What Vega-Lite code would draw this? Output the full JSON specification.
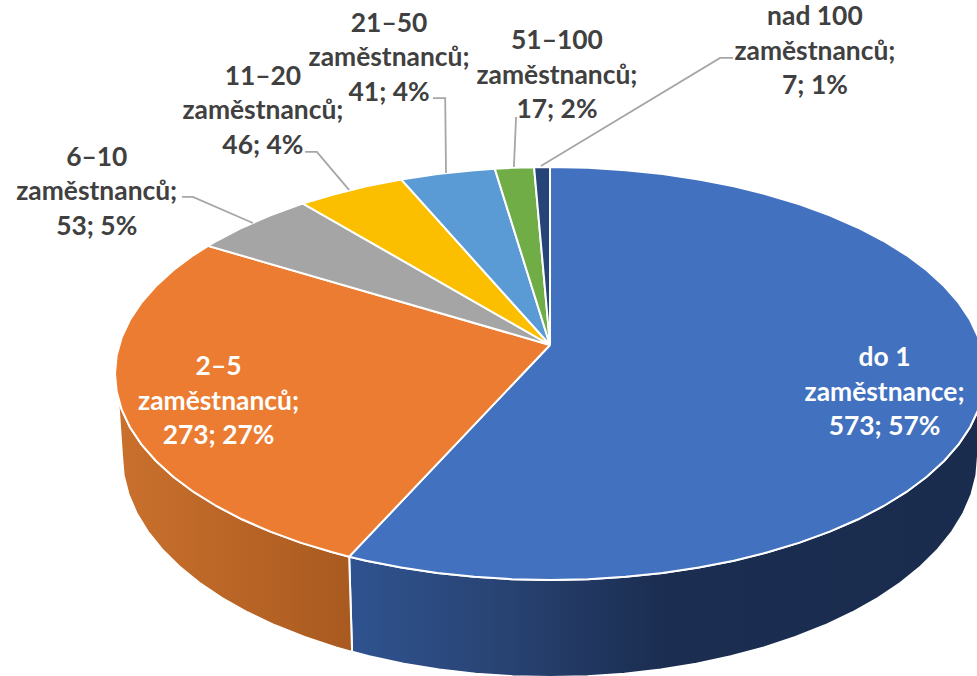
{"$schema":"https://vega.github.io/schema/vega-lite/v6.json","width":977,"height":676,"padding":0,"autosize":{"type":"fit","contains":"padding"},"background":"white","config":{"view":{"stroke":null}},
"datasets":{
"sides":[
{"part":"a","i":0,"u":100,"v":0},{"part":"a","i":1,"u":99.62,"v":8.72},{"part":"a","i":2,"u":98.48,"v":17.36},{"part":"a","i":3,"u":96.59,"v":25.88},{"part":"a","i":4,"u":93.97,"v":34.2},{"part":"a","i":5,"u":90.63,"v":42.26},{"part":"a","i":6,"u":86.6,"v":50},{"part":"a","i":7,"u":81.92,"v":57.36},{"part":"a","i":8,"u":76.6,"v":64.28},{"part":"a","i":9,"u":70.71,"v":70.71},{"part":"a","i":10,"u":64.28,"v":76.6},{"part":"a","i":11,"u":57.36,"v":81.92},{"part":"a","i":12,"u":50,"v":86.6},{"part":"a","i":13,"u":42.26,"v":90.63},{"part":"a","i":14,"u":34.2,"v":93.97},{"part":"a","i":15,"u":25.88,"v":96.59},{"part":"a","i":16,"u":17.36,"v":98.48},{"part":"a","i":17,"u":8.72,"v":99.62},{"part":"a","i":18,"u":0,"v":100},{"part":"a","i":19,"u":-8.72,"v":99.62},{"part":"a","i":20,"u":-17.36,"v":98.48},{"part":"a","i":21,"u":-25.88,"v":96.59},{"part":"a","i":22,"u":-34.2,"v":93.97},{"part":"a","i":23,"u":-42.26,"v":90.63},{"part":"a","i":24,"u":-46.17,"v":88.7},
{"part":"a","i":25,"u":-45.5,"v":134.79},{"part":"a","i":26,"u":-41.58,"v":136.94},{"part":"a","i":27,"u":-33.65,"v":140.52},{"part":"a","i":28,"u":-25.47,"v":143.32},{"part":"a","i":29,"u":-17.09,"v":145.34},{"part":"a","i":30,"u":-8.58,"v":146.56},{"part":"a","i":31,"u":0,"v":146.97},{"part":"a","i":32,"u":8.58,"v":146.56},{"part":"a","i":33,"u":17.09,"v":145.34},{"part":"a","i":34,"u":25.47,"v":143.32},{"part":"a","i":35,"u":33.65,"v":140.52},{"part":"a","i":36,"u":41.58,"v":136.94},{"part":"a","i":37,"u":49.2,"v":132.63},{"part":"a","i":38,"u":56.43,"v":127.62},{"part":"a","i":39,"u":63.24,"v":121.93},{"part":"a","i":40,"u":69.57,"v":115.62},{"part":"a","i":41,"u":75.37,"v":108.74},{"part":"a","i":42,"u":80.6,"v":101.33},{"part":"a","i":43,"u":85.21,"v":93.46},{"part":"a","i":44,"u":89.17,"v":85.18},{"part":"a","i":45,"u":92.46,"v":76.55},{"part":"a","i":46,"u":95.04,"v":67.65},{"part":"a","i":47,"u":96.9,"v":58.53},{"part":"a","i":48,"u":98.02,"v":49.28},{"part":"a","i":49,"u":98.39,"v":39.95},{"part":"a","i":50,"u":100,"v":0},
{"part":"b","i":0,"u":-46.17,"v":88.7},{"part":"b","i":1,"u":-50,"v":86.6},{"part":"b","i":2,"u":-57.36,"v":81.92},{"part":"b","i":3,"u":-64.28,"v":76.6},{"part":"b","i":4,"u":-70.71,"v":70.71},{"part":"b","i":5,"u":-76.6,"v":64.28},{"part":"b","i":6,"u":-81.92,"v":57.36},{"part":"b","i":7,"u":-86.6,"v":50},{"part":"b","i":8,"u":-90.63,"v":42.26},{"part":"b","i":9,"u":-93.97,"v":34.2},{"part":"b","i":10,"u":-96.59,"v":25.88},{"part":"b","i":11,"u":-98.48,"v":17.36},{"part":"b","i":12,"u":-99.3,"v":11.84},
{"part":"b","i":13,"u":-98.39,"v":39.95},{"part":"b","i":14,"u":-98.02,"v":49.28},{"part":"b","i":15,"u":-96.9,"v":58.53},{"part":"b","i":16,"u":-95.04,"v":67.65},{"part":"b","i":17,"u":-92.46,"v":76.55},{"part":"b","i":18,"u":-89.17,"v":85.18},{"part":"b","i":19,"u":-85.21,"v":93.46},{"part":"b","i":20,"u":-80.6,"v":101.33},{"part":"b","i":21,"u":-75.37,"v":108.74},{"part":"b","i":22,"u":-69.57,"v":115.62},{"part":"b","i":23,"u":-63.24,"v":121.93},{"part":"b","i":24,"u":-56.43,"v":127.62},{"part":"b","i":25,"u":-49.2,"v":132.63},{"part":"b","i":26,"u":-45.5,"v":134.79},{"part":"b","i":27,"u":-46.17,"v":88.7}
],
"slices":[
{"part":"a","i":0,"u":0,"v":-13.8},{"part":"a","i":1,"u":0,"v":-100},{"part":"a","i":2,"u":8.72,"v":-99.62},{"part":"a","i":3,"u":17.36,"v":-98.48},{"part":"a","i":4,"u":25.88,"v":-96.59},{"part":"a","i":5,"u":34.2,"v":-93.97},{"part":"a","i":6,"u":42.26,"v":-90.63},{"part":"a","i":7,"u":50,"v":-86.6},{"part":"a","i":8,"u":57.36,"v":-81.92},{"part":"a","i":9,"u":64.28,"v":-76.6},{"part":"a","i":10,"u":70.71,"v":-70.71},{"part":"a","i":11,"u":76.6,"v":-64.28},{"part":"a","i":12,"u":81.92,"v":-57.36},{"part":"a","i":13,"u":86.6,"v":-50},{"part":"a","i":14,"u":90.63,"v":-42.26},{"part":"a","i":15,"u":93.97,"v":-34.2},{"part":"a","i":16,"u":96.59,"v":-25.88},{"part":"a","i":17,"u":98.48,"v":-17.36},{"part":"a","i":18,"u":99.62,"v":-8.72},{"part":"a","i":19,"u":100,"v":0},{"part":"a","i":20,"u":99.62,"v":8.72},{"part":"a","i":21,"u":98.48,"v":17.36},{"part":"a","i":22,"u":96.59,"v":25.88},{"part":"a","i":23,"u":93.97,"v":34.2},{"part":"a","i":24,"u":90.63,"v":42.26},{"part":"a","i":25,"u":86.6,"v":50},{"part":"a","i":26,"u":81.92,"v":57.36},{"part":"a","i":27,"u":76.6,"v":64.28},{"part":"a","i":28,"u":70.71,"v":70.71},{"part":"a","i":29,"u":64.28,"v":76.6},{"part":"a","i":30,"u":57.36,"v":81.92},{"part":"a","i":31,"u":50,"v":86.6},{"part":"a","i":32,"u":42.26,"v":90.63},{"part":"a","i":33,"u":34.2,"v":93.97},{"part":"a","i":34,"u":25.88,"v":96.59},{"part":"a","i":35,"u":17.36,"v":98.48},{"part":"a","i":36,"u":8.72,"v":99.62},{"part":"a","i":37,"u":0,"v":100},{"part":"a","i":38,"u":-8.72,"v":99.62},{"part":"a","i":39,"u":-17.36,"v":98.48},{"part":"a","i":40,"u":-25.88,"v":96.59},{"part":"a","i":41,"u":-34.2,"v":93.97},{"part":"a","i":42,"u":-42.26,"v":90.63},{"part":"a","i":43,"u":-46.17,"v":88.7},{"part":"a","i":44,"u":0,"v":-13.8},
{"part":"b","i":0,"u":0,"v":-13.8},{"part":"b","i":1,"u":-46.17,"v":88.7},{"part":"b","i":2,"u":-50,"v":86.6},{"part":"b","i":3,"u":-57.36,"v":81.92},{"part":"b","i":4,"u":-64.28,"v":76.6},{"part":"b","i":5,"u":-70.71,"v":70.71},{"part":"b","i":6,"u":-76.6,"v":64.28},{"part":"b","i":7,"u":-81.92,"v":57.36},{"part":"b","i":8,"u":-86.6,"v":50},{"part":"b","i":9,"u":-90.63,"v":42.26},{"part":"b","i":10,"u":-93.97,"v":34.2},{"part":"b","i":11,"u":-96.59,"v":25.88},{"part":"b","i":12,"u":-98.48,"v":17.36},{"part":"b","i":13,"u":-99.62,"v":8.72},{"part":"b","i":14,"u":-100,"v":0},{"part":"b","i":15,"u":-99.62,"v":-8.72},{"part":"b","i":16,"u":-98.48,"v":-17.36},{"part":"b","i":17,"u":-96.59,"v":-25.88},{"part":"b","i":18,"u":-93.97,"v":-34.2},{"part":"b","i":19,"u":-90.63,"v":-42.26},{"part":"b","i":20,"u":-86.6,"v":-50},{"part":"b","i":21,"u":-81.92,"v":-57.36},{"part":"b","i":22,"u":-78.6,"v":-61.8},{"part":"b","i":23,"u":0,"v":-13.8},
{"part":"c","i":0,"u":0,"v":-13.8},{"part":"c","i":1,"u":-78.6,"v":-61.8},{"part":"c","i":2,"u":-76.6,"v":-64.28},{"part":"c","i":3,"u":-70.71,"v":-70.71},{"part":"c","i":4,"u":-64.28,"v":-76.6},{"part":"c","i":5,"u":-57.36,"v":-81.92},{"part":"c","i":6,"u":-56.8,"v":-82.3},{"part":"c","i":7,"u":0,"v":-13.8},
{"part":"d","i":0,"u":0,"v":-13.8},{"part":"d","i":1,"u":-56.8,"v":-82.3},{"part":"d","i":2,"u":-50,"v":-86.6},{"part":"d","i":3,"u":-42.26,"v":-90.63},{"part":"d","i":4,"u":-34.2,"v":-93.97},{"part":"d","i":5,"u":0,"v":-13.8},
{"part":"e","i":0,"u":0,"v":-13.8},{"part":"e","i":1,"u":-34.2,"v":-93.97},{"part":"e","i":2,"u":-25.88,"v":-96.59},{"part":"e","i":3,"u":-17.36,"v":-98.48},{"part":"e","i":4,"u":-12.7,"v":-99.2},{"part":"e","i":5,"u":0,"v":-13.8},
{"part":"f","i":0,"u":0,"v":-13.8},{"part":"f","i":1,"u":-12.7,"v":-99.2},{"part":"f","i":2,"u":-8.72,"v":-99.62},{"part":"f","i":3,"u":-3.66,"v":-99.93},{"part":"f","i":4,"u":0,"v":-13.8},
{"part":"g","i":0,"u":0,"v":-13.8},{"part":"g","i":1,"u":-3.66,"v":-99.93},{"part":"g","i":2,"u":0,"v":-100},{"part":"g","i":3,"u":0,"v":-13.8}
],
"leaders":[
{"part":"c","i":0,"u":-84.6,"v":-85.5},{"part":"c","i":1,"u":-82.1,"v":-85.5},{"part":"c","i":2,"u":-68.3,"v":-72.9},
{"part":"d","i":0,"u":-56.3,"v":-107.3},{"part":"d","i":1,"u":-53.6,"v":-107.3},{"part":"d","i":2,"u":-46.2,"v":-88.9},
{"part":"e","i":0,"u":-26.9,"v":-133.4},{"part":"e","i":1,"u":-24.1,"v":-133.4},{"part":"e","i":2,"u":-23.9,"v":-97.1},
{"part":"f","i":0,"u":-7.8,"v":-124.2},{"part":"f","i":1,"u":-8.3,"v":-100},
{"part":"g","i":0,"u":42.1,"v":-152.8},{"part":"g","i":1,"u":39.1,"v":-152.8},{"part":"g","i":2,"u":-2.1,"v":-100.5}
],
"labels":[
{"label":"do 1\nzaměstnance;\n573; 57%","u":76.9,"v":-7.5,"inside":"yes"},
{"label":"2–5\nzaměstnanců;\n273; 27%","u":-76.2,"v":-3,"inside":"yes"},
{"label":"6–10\nzaměstnanců;\n53; 5%","u":-104.2,"v":-104.5,"inside":"no"},
{"label":"11–20\nzaměstnanců;\n46; 4%","u":-66,"v":-143.8,"inside":"no"},
{"label":"21–50\nzaměstnanců;\n41; 4%","u":-37,"v":-169.4,"inside":"no"},
{"label":"51–100\nzaměstnanců;\n17; 2%","u":1.6,"v":-160.8,"inside":"no"},
{"label":"nad 100\nzaměstnanců;\n7; 1%","u":60.9,"v":-172.6,"inside":"no"}
]},
"encoding":{
"x":{"field":"u","type":"quantitative","axis":null,"scale":{"domain":[-126.44,98.16],"nice":false,"zero":false}},
"y":{"field":"v","type":"quantitative","axis":null,"scale":{"domain":[146.49,-180.87],"nice":false,"zero":false}}
},
"layer":[
{"data":{"name":"sides"},"transform":[{"filter":"datum.part==='a'"}],"mark":{"type":"line","clip":true,"stroke":"white","strokeWidth":2,"fill":{"gradient":"linear","x1":0,"y1":0,"x2":1,"y2":0,"stops":[{"offset":0,"color":"#2F5390"},{"offset":0.2,"color":"#2A4678"},{"offset":0.5,"color":"#1B2D50"},{"offset":1,"color":"#1A2C4E"}]}},"encoding":{"order":{"field":"i","type":"quantitative"}}},
{"data":{"name":"sides"},"transform":[{"filter":"datum.part==='b'"}],"mark":{"type":"line","clip":true,"stroke":"white","strokeWidth":2,"fill":{"gradient":"linear","x1":0,"y1":0,"x2":1,"y2":0,"stops":[{"offset":0,"color":"#CA702D"},{"offset":1,"color":"#A95A20"}]}},"encoding":{"order":{"field":"i","type":"quantitative"}}},
{"data":{"name":"slices"},"transform":[{"filter":"datum.part==='a'"}],"mark":{"type":"line","clip":true,"fill":"#4271BF","stroke":"white","strokeWidth":2},"encoding":{"order":{"field":"i","type":"quantitative"}}},
{"data":{"name":"slices"},"transform":[{"filter":"datum.part==='b'"}],"mark":{"type":"line","clip":true,"fill":"#EB7C31","stroke":"white","strokeWidth":2},"encoding":{"order":{"field":"i","type":"quantitative"}}},
{"data":{"name":"slices"},"transform":[{"filter":"datum.part==='c'"}],"mark":{"type":"line","clip":true,"fill":"#A5A5A5","stroke":"white","strokeWidth":2},"encoding":{"order":{"field":"i","type":"quantitative"}}},
{"data":{"name":"slices"},"transform":[{"filter":"datum.part==='d'"}],"mark":{"type":"line","clip":true,"fill":"#FBBF00","stroke":"white","strokeWidth":2},"encoding":{"order":{"field":"i","type":"quantitative"}}},
{"data":{"name":"slices"},"transform":[{"filter":"datum.part==='e'"}],"mark":{"type":"line","clip":true,"fill":"#5B9BD5","stroke":"white","strokeWidth":2},"encoding":{"order":{"field":"i","type":"quantitative"}}},
{"data":{"name":"slices"},"transform":[{"filter":"datum.part==='f'"}],"mark":{"type":"line","clip":true,"fill":"#70AD47","stroke":"white","strokeWidth":2},"encoding":{"order":{"field":"i","type":"quantitative"}}},
{"data":{"name":"slices"},"transform":[{"filter":"datum.part==='g'"}],"mark":{"type":"line","clip":true,"fill":"#264478","stroke":"white","strokeWidth":2},"encoding":{"order":{"field":"i","type":"quantitative"}}},
{"data":{"name":"leaders"},"mark":{"type":"line","stroke":"#A6A6A6","strokeWidth":1.8},"encoding":{"detail":{"field":"part"},"order":{"field":"i","type":"quantitative"}}},
{"data":{"name":"labels"},"mark":{"type":"text","font":"Lato","fontWeight":"bold","fontSize":26.4,"lineBreak":"\n","lineHeight":34.5,"align":"center","baseline":"middle"},"encoding":{"text":{"field":"label"},"color":{"field":"inside","type":"nominal","legend":null,"scale":{"domain":["yes","no"],"range":["#FFFFFF","#404040"]}}}}
]}
